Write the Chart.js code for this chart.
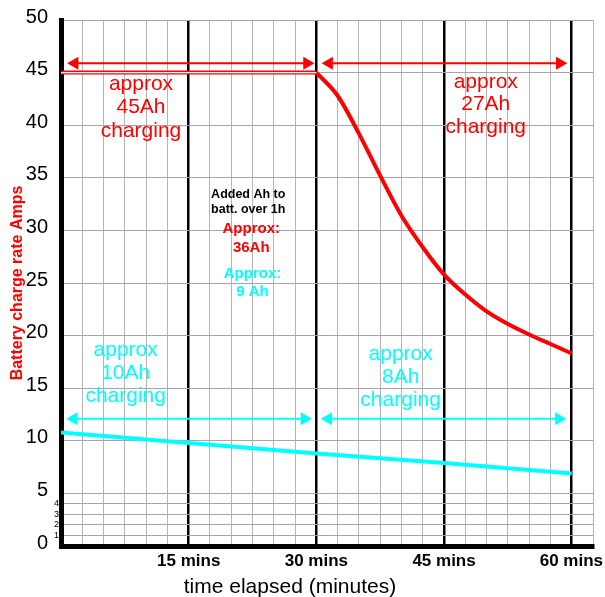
<!DOCTYPE html>
<html>
<head>
<meta charset="utf-8">
<title>Battery charge rate</title>
<script src="https://cdn.jsdelivr.net/npm/chart.js@4.4.1/dist/chart.umd.min.js"></script>
<style>
  html, body { margin: 0; padding: 0; background: #fff; }
  canvas { display: block; }
</style>
</head>
<body>
<canvas id="chargeChart" width="605" height="597"></canvas>
<script>
// minutes elapsed vs charge current (amps)
const flatMinutes = [0, 30];
const flatAmps = [45, 45];
const taperMinutes = [30, 32.5, 35, 37.5, 40, 42.5, 45, 47.5, 50, 52.5, 55, 57.5, 60];
const taperAmps = [45, 42.8, 39.2, 35.2, 31.4, 28.4, 25.8, 23.9, 22.3, 21.1, 20.1, 19.2, 18.3];
const lowMinutes = [0, 15, 30, 45, 60];
const lowAmps = [10.8, 9.8, 8.8, 7.9, 6.9];

const yTicks = [0, 1, 2, 3, 4, 5, 10, 15, 20, 25, 30, 35, 40, 45, 50];
const smallTicks = [1, 2, 3, 4];
const timeTicks = [15, 30, 45, 60];
const timeLabels = ['15 mins', '30 mins', '45 mins', '60 mins'];

// double-headed arrows over each half hour
const redArrowSpans = [[1.6, 28.9], [31.5, 58.6]];
const redArrowLevel = 45.9;
const cyanArrowSpans = [[1.5, 28.6], [31.4, 58.5]];
const cyanArrowLevel = 12.1;

const RED = '#ff0000';
const CYAN = '#00ffff';
const FONT = '"Liberation Sans", Arial, Helvetica, sans-serif';

Chart.defaults.font.family = FONT;
Chart.defaults.color = '#000';

const pts = (xs, ys) => xs.map((x, i) => ({ x, y: ys[i] }));

function arrow(span, level, color) {
  return {
    data: [{ x: span[0], y: level }, { x: span[1], y: level }],
    borderColor: color,
    borderWidth: 2,
    pointStyle: 'triangle',
    pointRadius: 7.5,
    pointRotation: [-90, 90],
    pointBackgroundColor: color,
    pointBorderWidth: 0,
    order: 0
  };
}

// text blocks placed in data units: first line centre, then line spacing in px
const notes = [
  { x: 9.4, y: 43.9, lh: 23.5, color: RED, font: '21px ' + FONT, lines: ['approx', '45Ah', 'charging'] },
  { x: 49.9, y: 44.1, lh: 22.5, color: RED, font: '21px ' + FONT, lines: ['approx', '27Ah', 'charging'] },
  { x: 7.6, y: 18.6, lh: 23, color: CYAN, font: '21px ' + FONT, lines: ['approx', '10Ah', 'charging'] },
  { x: 39.9, y: 18.2, lh: 23, color: CYAN, font: '21px ' + FONT, lines: ['approx', '8Ah', 'charging'] },
  { x: 22.0, y: 33.4, lh: 14.5, color: '#000', font: 'bold 12.5px ' + FONT, lines: ['Added Ah to', 'batt. over 1h'] },
  { x: 22.35, y: 30.1, lh: 19, color: RED, font: 'bold 15px ' + FONT, lines: ['Approx:', '36Ah'] },
  { x: 22.5, y: 25.9, lh: 18, color: CYAN, font: 'bold 15px ' + FONT, lines: ['Approx:', '9 Ah'] }
];

const labelsPlugin = {
  id: 'labels',
  afterDatasetsDraw(chart) {
    const { ctx, chartArea, scales: { x, y } } = chart;
    ctx.save();
    ctx.textAlign = 'center';
    ctx.textBaseline = 'middle';
    for (const n of notes) {
      ctx.font = n.font;
      ctx.fillStyle = n.color;
      const px = x.getPixelForValue(n.x);
      const py = y.getPixelForValue(n.y);
      n.lines.forEach((t, i) => ctx.fillText(t, px, py + i * n.lh));
    }

    // tiny 1-4 labels squeezed against the axis
    ctx.fillStyle = '#000';
    ctx.font = '9px ' + FONT;
    ctx.textAlign = 'right';
    for (const v of smallTicks) {
      ctx.fillText(String(v), chartArea.left - 2, y.getPixelForValue(v));
    }

    // time labels, last one pulled in so it stays on the canvas
    ctx.font = 'bold 17px ' + FONT;
    ctx.textAlign = 'center';
    timeTicks.forEach((v, i) => {
      const w = ctx.measureText(timeLabels[i]).width;
      const cx = Math.min(x.getPixelForValue(v), chart.width - 2 - w / 2);
      ctx.fillText(timeLabels[i], cx, chartArea.bottom + 15.5);
    });

    ctx.font = '21px ' + FONT;
    ctx.fillText('time elapsed (minutes)', x.getPixelForValue(26.9), chartArea.bottom + 41);
    ctx.restore();
  }
};

new Chart(document.getElementById('chargeChart'), {
  type: 'line',
  data: {
    datasets: [
      { data: pts(flatMinutes, flatAmps), borderColor: RED, borderWidth: 4, pointRadius: 0, order: 3 },
      { data: pts(flatMinutes, flatAmps), borderColor: '#fff', borderWidth: 1.4, pointRadius: 0, order: 2 },
      { data: pts(taperMinutes, taperAmps), borderColor: RED, borderWidth: 4, pointRadius: 0,
        cubicInterpolationMode: 'monotone', order: 3 },
      { data: pts(lowMinutes, lowAmps), borderColor: CYAN, borderWidth: 4, pointRadius: 0, order: 3 },
      ...redArrowSpans.map(s => arrow(s, redArrowLevel, RED)),
      ...cyanArrowSpans.map(s => arrow(s, cyanArrowLevel, CYAN))
    ]
  },
  options: {
    responsive: false,
    animation: false,
    devicePixelRatio: 1,
    layout: { padding: { top: 20, right: 12, left: 0, bottom: 0 } },
    plugins: { legend: { display: false }, tooltip: { enabled: false } },
    scales: {
      x: {
        type: 'linear',
        min: 0,
        max: 62.5,
        afterBuildTicks: s => {
          s.ticks = Array.from({ length: 26 }, (_, i) => ({ value: i * 2.5 }));
        },
        afterFit: s => { s.height = 51; s.paddingLeft = 0; s.paddingRight = 0; },
        ticks: { display: false },
        grid: {
          drawTicks: false,
          color: c => (c.tick && c.tick.value % 15 === 0 ? '#000' : '#b4b4b4'),
          lineWidth: c => (c.tick && c.tick.value % 15 === 0 ? 2.5 : 1)
        },
        border: { color: '#000', width: 5 }
      },
      y: {
        min: 0,
        max: 50,
        afterBuildTicks: s => { s.ticks = yTicks.map(v => ({ value: v })); },
        afterFit: s => { s.width = 61; s.paddingTop = 0; s.paddingBottom = 0; },
        ticks: {
          autoSkip: false,
          padding: 13,
          labelOffset: -3,
          font: { size: 20 },
          callback: v => (v % 5 === 0 ? String(v) : '')
        },
        grid: { drawTicks: false, color: '#a6a6a6', lineWidth: 1 },
        border: { color: '#000', width: 5 },
        title: {
          display: true,
          text: 'Battery charge rate Amps',
          color: RED,
          font: { size: 16, weight: 'bold' },
          padding: { top: 8, bottom: 0 }
        }
      }
    }
  },
  plugins: [labelsPlugin]
});
</script>
</body>
</html>
